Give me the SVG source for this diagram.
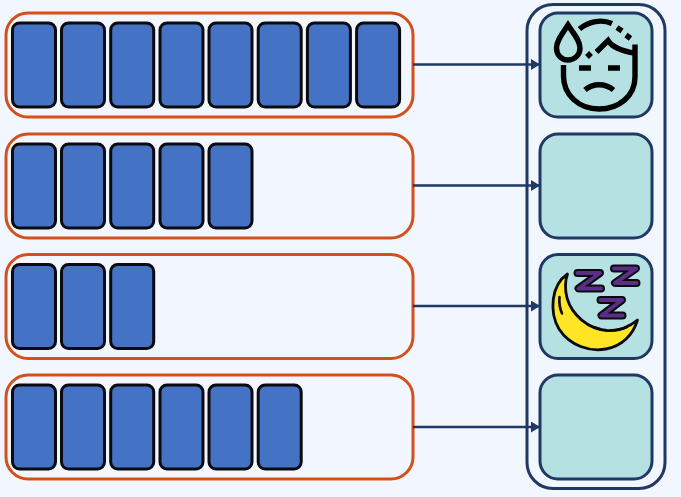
<svg xmlns="http://www.w3.org/2000/svg" width="681" height="497" viewBox="0 0 681 497">
<style>
.row{fill:#f2f6fe;stroke:#d4501b;stroke-width:3}
.cell{fill:#4472c4;stroke:#0b0b0f;stroke-width:3}
.slot{fill:#b5e1e3;stroke:#1f3864;stroke-width:3}
.conn{fill:none;stroke:#1f3864;stroke-width:2.6;marker-end:url(#arrow)}
.ic{fill:none;stroke:#000;stroke-width:5.4;stroke-linecap:butt;stroke-linejoin:miter}
.zo{fill:none;stroke:#0b0b0f;stroke-width:8;stroke-linejoin:round;stroke-linecap:round}
.zi{fill:none;stroke:#5a2d86;stroke-width:4;stroke-linejoin:round;stroke-linecap:round}
.ml{fill:none;stroke:#0b0b0f;stroke-width:2.6;stroke-linecap:round}
</style>
<defs>
<marker id="arrow" markerUnits="userSpaceOnUse" markerWidth="10" markerHeight="11" refX="9" refY="5.500" orient="auto"><path d="M0 0L9 5.500L0 11Z" fill="#1f3864"/></marker>
<rect id="c" class="cell" width="43" height="84" rx="7"/>
<g id="s"><rect class="slot" width="112" height="104" rx="18"/></g>
</defs>
<rect width="681" height="497" fill="#f2f6fe"/>
<g id="row1"><rect class="row" x="6" y="13" width="407" height="104" rx="22"/>
<use href="#c" x="12.5" y="23"/><use href="#c" x="61.5" y="23"/><use href="#c" x="110.7" y="23"/><use href="#c" x="160" y="23"/><use href="#c" x="209" y="23"/><use href="#c" x="258.2" y="23"/><use href="#c" x="307.4" y="23"/><use href="#c" x="356.6" y="23"/></g>
<g id="row2"><rect class="row" x="6" y="134" width="407" height="104" rx="22"/>
<use href="#c" x="12.5" y="144"/><use href="#c" x="61.5" y="144"/><use href="#c" x="110.7" y="144"/><use href="#c" x="160" y="144"/><use href="#c" x="209" y="144"/></g>
<g id="row3"><rect class="row" x="6" y="254.500" width="407" height="104" rx="22"/>
<use href="#c" x="12.5" y="264.500"/><use href="#c" x="61.5" y="264.500"/><use href="#c" x="110.7" y="264.500"/></g>
<g id="row4"><rect class="row" x="6" y="375" width="407" height="104" rx="22"/>
<use href="#c" x="12.5" y="385"/><use href="#c" x="61.5" y="385"/><use href="#c" x="110.7" y="385"/><use href="#c" x="160" y="385"/><use href="#c" x="209" y="385"/><use href="#c" x="258.2" y="385"/></g>
<g id="container"><rect x="527" y="4.500" width="138" height="484" rx="26" fill="#f2f6fe" stroke="#1f3864" stroke-width="3"/></g>
<g id="slot1"><use href="#s" x="540" y="13"/>
<g id="face">
<path class="ic" d="M568 25C563 33 556.500 40 556.500 48C556.500 55 561.500 60 568 60C574.500 60 580 55 580 48C580 40 573 33 568 25Z"/>
<path class="ic" d="M579.500 29C589 21 602 19 612 23.500"/>
<path class="ic" d="M617 27.500L622 31M626 35L630.500 38.500M587 57L591 53"/>
<path class="ic" d="M596.500 52L608 40.500C612 47 622 51 634 53"/>
<path class="ic" d="M635 44.500V77C635 96 619 109 599 109C579 109 563.500 95 563.500 76V65"/>
<path class="ic" d="M579 68H591M608 68H620"/>
<path class="ic" d="M585 90C593 83 605 83 613.500 90"/>
</g></g>
<g id="slot2"><use href="#s" x="540" y="134"/></g>
<g id="slot3"><use href="#s" x="540" y="254.500"/>
<g id="moon">
<path d="M567.500 274C551 285 549 312 559 329C570 346 590 352 606 349C622 346 633 335 637.500 320C628 328 618 331 607 330.500C588 329 572 315 567 298C565 290 565 281 567.500 274Z" fill="#ffe525" stroke="#0b0b0f" stroke-width="2.800" stroke-linejoin="round"/>
<path class="ml" d="M559.500 297C559 303 560 309 562 313.500M593.500 327L600 329M610 330.500C617 330.500 622 329.500 627 327"/>
<path class="zo" d="M577.500 273H600L578.500 288.500H601"/><path class="zi" d="M577.500 273H600L578.500 288.500H601"/>
<path class="zo" d="M614 268.500H636L615 283H636.500"/><path class="zi" d="M614 268.500H636L615 283H636.500"/>
<path class="zo" d="M600.500 300H622L601.500 315.500H622.500"/><path class="zi" d="M600.500 300H622L601.500 315.500H622.500"/>
</g></g>
<g id="slot4"><use href="#s" x="540" y="375"/></g>
<g id="connectors">
<path class="conn" d="M413 64.500H540"/>
<path class="conn" d="M413 185.500H540"/>
<path class="conn" d="M413 306H540"/>
<path class="conn" d="M413 427H540"/>
</g>
</svg>
